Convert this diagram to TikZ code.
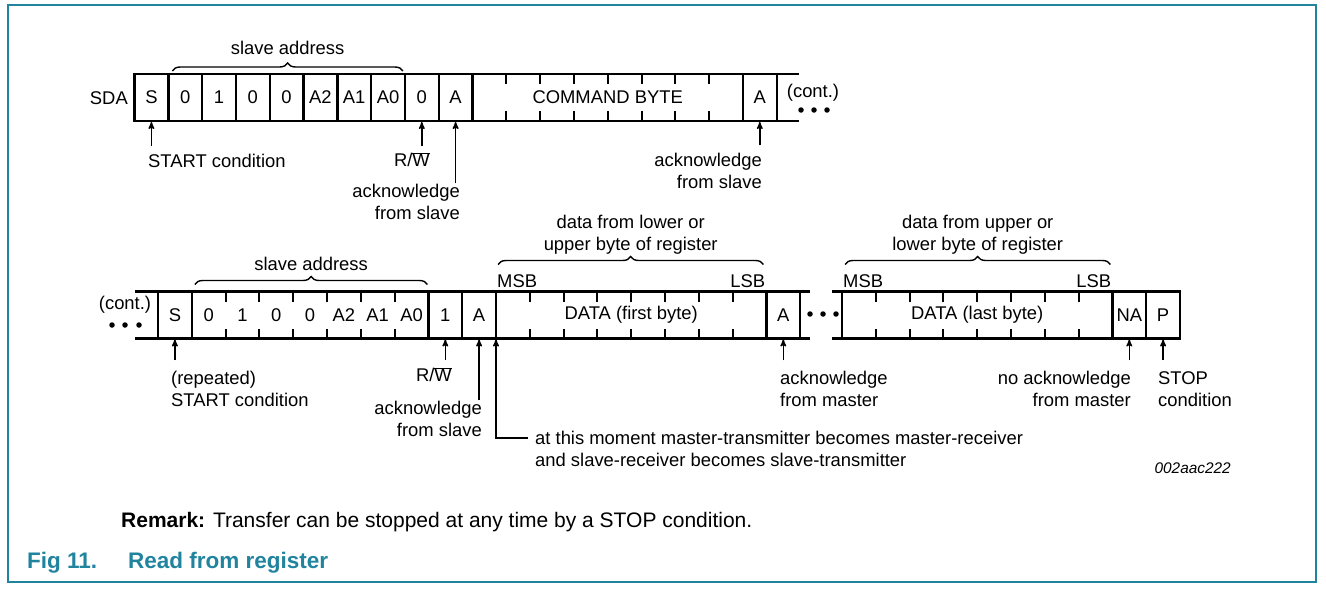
\documentclass[tikz,border=0pt]{standalone}
\usepackage{fontspec}
\setmainfont{Liberation Sans}
\usepackage{tikz}
\usetikzlibrary{arrows,positioning,calc,decorations.pathreplacing}
\definecolor{figteal}{RGB}{33,132,158}

\begin{document}
\begin{tikzpicture}[x=1pt,y=-1pt,>=stealth',node distance=0pt,
    font=\fontsize{18.4}{22}\selectfont]
 \tikzstyle{cell}=[draw,line width=2.4pt,minimum width=33.8pt,minimum height=47pt,inner sep=0pt,outer sep=0pt]
 \tikzstyle{byte}=[cell,minimum width=270.4pt]
 \tikzstyle{addr}=[cell,minimum width=236.6pt]
 \tikzstyle{bus}=[line width=2.4pt]
 \tikzstyle{tick}=[line width=2pt]
 \tikzstyle{pointer}=[->,line width=1.4pt,shorten >=1pt]
 \tikzstyle{note}=[inner sep=1pt]
 \tikzstyle{brc}=[decorate,decoration={brace,amplitude=8pt},line width=1.4pt]
 \tikzstyle{dot}=[circle,fill,inner sep=0pt,minimum size=5.5pt]

 \useasboundingbox (0,0) rectangle (1326,594);
 \draw[figteal,line width=2pt] (8,5) rectangle (1316,582);

 % first frame: slave address + command byte
 \node[note,anchor=east] (sda) at (129,98) {SDA};
 \node[cell,anchor=west] (s1) at (134.5,97.5) {S};
 \node[cell] (b6) [right=of s1] {0};
 \node[cell] (b5) [right=of b6] {1};
 \node[cell] (b4) [right=of b5] {0};
 \node[cell] (b3) [right=of b4] {0};
 \node[cell] (b2) [right=of b3] {A2};
 \node[cell] (b1) [right=of b2] {A1};
 \node[cell] (b0) [right=of b1] {A0};
 \node[cell] (rw1) [right=of b0] {0};
 \node[cell] (ack1) [right=of rw1] {A};
 \node[byte] (cmd) [right=of ack1] {COMMAND BYTE};
 \node[cell] (ack2) [right=of cmd] {A};
 \draw[bus] (ack2.north east) -- ++(22,0) (ack2.south east) -- ++(22,0);
 \foreach \i in {1,...,7}
   \draw[tick] ($(cmd.north west)+(\i*33.8,0)$) -- ++(0,10)
               ($(cmd.south west)+(\i*33.8,0)$) -- ++(0,-10);
 \node[note] (cont1) at (813,93) {(cont.)};
 \foreach \x [count=\i] in {801,814,827}
   \node[dot] (da\i) at (\x,110) {};

 \draw[brc] ($(b6.north west)+(4,-3)$) -- node[note,above=15pt] (sa1) {slave address} ($(b0.north east)+(-2,-3)$);

 \node[note,anchor=north west] (start1) at (147,153.4) {START condition};
 \draw[pointer,shorten <=7pt] (start1.north -| s1.south) -- (s1.south);
 \node[note,anchor=north east] (rwl1) at (431,151) {R/$\overline{\mbox{W}}$};
 \draw[pointer,shorten <=5pt] (rwl1.north -| rw1.south) -- (rw1.south);
 \node[note,anchor=north east,align=right] (ackl1) at (461,183.4) {acknowledge\\from slave};
 \draw[pointer] (ackl1.north -| ack1.south) -- (ack1.south);
 \node[note,anchor=north east,align=right] (ackl2) at (763,152.4) {acknowledge\\from slave};
 \draw[pointer,shorten <=7pt] (ackl2.north -| ack2.south) -- (ack2.south);

 % second frame: repeated start + data bytes
 \node[note] (cont2) at (125,305) {(cont.)};
 \foreach \x [count=\i] in {112,125,139}
   \node[dot] (db\i) at (\x,325) {};
 \node[cell,anchor=west] (s2) at (158,315) {S};
 \draw[bus] (s2.north west) -- ++(-23,0) (s2.south west) -- ++(-23,0);
 \node[addr] (addr2) [right=of s2] {};
 \foreach \t [count=\i] in {0,1,0,0,A2,A1,A0}
   \node (ab\i) at ($(addr2.west)+(\i*33.8-16.9,0)$) {\t};
 \foreach \i in {1,...,6}
   \draw[tick] ($(addr2.north west)+(\i*33.8,0)$) -- ++(0,10)
               ($(addr2.south west)+(\i*33.8,0)$) -- ++(0,-10);
 \node[cell] (rw2) [right=of addr2] {1};
 \node[cell] (ack3) [right=of rw2] {A};
 \node[byte] (data1) [right=of ack3] {DATA (first byte)};
 \node[cell] (ack4) [right=of data1] {A};
 \draw[bus] (ack4.north east) -- ++(10,0) (ack4.south east) -- ++(10,0);
 \foreach \x [count=\i] in {810,823,836}
   \node[dot] (dc\i) at (\x,314) {};
 \node[byte,anchor=west] (data2) at (842,315) {DATA (last byte)};
 \draw[bus] (data2.north west) -- ++(-10,0) (data2.south west) -- ++(-10,0);
 \node[cell] (nack) [right=of data2] {NA};
 \node[cell] (stop) [right=of nack] {P};
 \foreach \i in {1,...,7}
   \draw[tick] ($(data1.north west)+(\i*33.8,0)$) -- ++(0,10)
               ($(data1.south west)+(\i*33.8,0)$) -- ++(0,-10)
               ($(data2.north west)+(\i*33.8,0)$) -- ++(0,10)
               ($(data2.south west)+(\i*33.8,0)$) -- ++(0,-10);

 \draw[brc] ($(addr2.north west)+(3,-7)$) -- node[note,above=12pt] (sa2) {slave address} ($(addr2.north east)+(-1,-7)$);
 \draw[brc] ($(data1.north west)+(2,-27)$) -- node[note,above=8pt,align=center] (reg1) {data from lower or\\upper byte of register} ($(data1.north east)+(-3,-27)$);
 \draw[brc] ($(data2.north west)+(3,-27)$) -- node[note,above=8pt,align=center] (reg2) {data from upper or\\lower byte of register} ($(data2.north east)+(-2,-27)$);
 \node[note,anchor=south west] (msb1) at ($(data1.north west)+(0,-3)$) {MSB};
 \node[note,anchor=south east] (lsb1) at ($(data1.north east)+(0,-3)$) {LSB};
 \node[note,anchor=south west] (msb2) at ($(data2.north west)+(0,-3)$) {MSB};
 \node[note,anchor=south east] (lsb2) at ($(data2.north east)+(0,-3)$) {LSB};

 \node[note,anchor=north west,align=left] (start2) at (170,370.4) {(repeated)\\START condition};
 \draw[pointer,shorten <=10pt] (start2.north -| s2.south) -- (s2.south);
 \node[note,anchor=north east] (rwl2) at (453,366) {R/$\overline{\mbox{W}}$};
 \draw[pointer,shorten <=6pt] (rwl2.north -| rw2.south) -- (rw2.south);
 \node[note,anchor=north east,align=right] (ackl3) at (483,400.4) {acknowledge\\from slave};
 \draw[pointer] (ackl3.north -| ack3.south) -- (ack3.south);
 \node[note,anchor=north west,align=left] (moment) at (534,430.4) {at this moment master-transmitter becomes master-receiver\\and slave-receiver becomes slave-transmitter};
 \coordinate (mt) at (528,438);
 \draw[pointer] (mt) -| (data1.south west);
 \node[note,anchor=north west,align=left] (ackl4) at (779,370.4) {acknowledge\\from master};
 \draw[pointer,shorten <=10pt] (ackl4.north -| ack4.south) -- (ack4.south);
 \node[note,anchor=north east,align=right] (nackl) at (1132,370.4) {no acknowledge\\from master};
 \draw[pointer,shorten <=10pt] (nackl.north -| nack.south) -- (nack.south);
 \node[note,anchor=north west,align=left] (stopl) at (1157,370.4) {STOP\\condition};
 \draw[pointer,shorten <=10pt] (stopl.north -| stop.south) -- (stop.south);

 \node[note,anchor=east,font=\fontsize{15.4}{18}\selectfont\itshape] (code) at (1232,468) {002aac222};

 % remark and caption
 \node[note,anchor=base west,font=\fontsize{21}{25}\selectfont] (remark) at (120,527) {\textbf{Remark:} Transfer can be stopped at any time by a STOP condition.};
 \node[note,anchor=base west,text=figteal,font=\fontsize{22.5}{27}\selectfont\bfseries] (figno) at (26,568) {Fig 11.};
 \node[note,anchor=base west,text=figteal,font=\fontsize{22.5}{27}\selectfont\bfseries] (figtitle) at (127,568) {Read from register};
\end{tikzpicture}
\end{document}
